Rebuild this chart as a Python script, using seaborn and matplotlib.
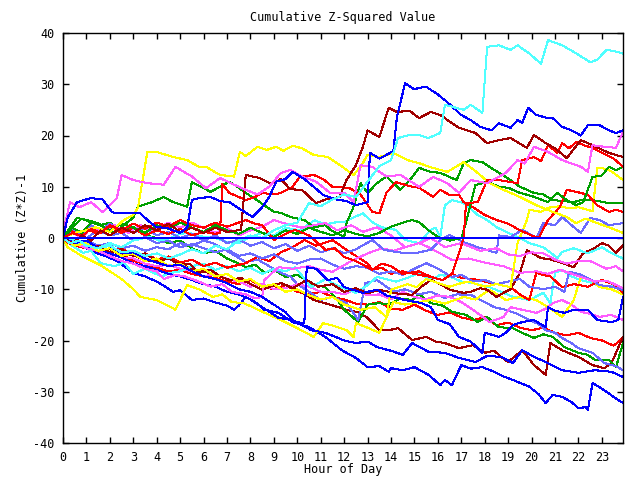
import matplotlib
matplotlib.use("Agg")
import matplotlib.pyplot as plt
import seaborn as sns
import pandas as pd

# ---- data: (hour, cumulative value) per series ----
cyan_a = [(0,0),(0.3,-1),(0.7,-0.5),(1,-1.5),(1.5,-2),(2,-1.5),(2.5,-2.8),(3,-2.5),(3.5,-3.5),(4,-3),(4.5,-4),(5,-3.2),(5.5,-2.2),(6,-3),(6.5,-1.5),(7,-2.2),(7.5,-0.5),(8,0.5),(8.5,0),(9,1.5),(9.5,2.5),(10,3),(10.5,6.8),(11,6.2),(11.5,7.5),(12,8.5),(12.5,8),(13,11),(13.5,14),(14,15.2),(14.3,19.5),(14.7,20),(15.2,20.1),(15.6,19.5),(16.1,20.5),(16.3,26),(16.7,25.5),(17.1,25),(17.4,26),(17.9,24.4),(18.1,37.3),(18.6,37.6),(19.1,36.7),(19.4,37.6),(19.9,36),(20.4,34),(20.7,38.6),(21.3,37.6),(21.8,36.3),(22.5,34.3),(22.8,34.8),(23.2,36.7),(23.5,36.5),(23.9,36)]
blue_a = [(0,0),(0.2,4),(0.6,7),(1.2,7.8),(1.7,7.5),(2.1,5),(2.6,4.8),(3.3,4.8),(3.7,3.1),(4,2.1),(4.4,2),(5,1),(5.3,2),(5.5,7.4),(5.8,7.8),(6.3,8),(6.7,7.2),(7.1,7),(7.6,5.5),(8.1,4.1),(8.5,6),(8.8,8),(9.1,11),(9.5,11.5),(9.8,12.9),(10.3,11.5),(10.7,10),(11.1,8.4),(11.7,7.5),(12.1,7.2),(12.5,6.4),(13,7),(13.1,16.6),(13.5,15.5),(13.8,16.2),(14.1,17),(14.25,23.6),(14.6,30.2),(15,29),(15.2,29.3),(15.5,29.5),(16,28),(16.4,26.5),(17,24),(17.4,23),(17.8,21.7),(18.3,21),(18.6,22.4),(19.1,21.5),(19.4,23),(19.6,22.5),(19.85,25.4),(20.2,24),(20.7,23.4),(20.9,23.4),(21.3,21.7),(21.7,21),(22.1,20),(22.4,22),(22.9,22),(23.3,21),(23.6,20.5),(23.9,21)]
darkred_a = [(0,0),(0.4,-1),(0.8,0.5),(1.2,-0.5),(1.6,1.5),(2,0.5),(2.5,2),(3,1),(3.5,2.5),(4,1.5),(4.5,2.8),(5,1.2),(5.5,2),(6,1),(6.5,2),(7,1.2),(7.6,1.6),(7.8,12.3),(8.4,11.7),(8.9,10.5),(9.3,11.5),(9.7,9.5),(10.2,9.4),(10.8,6.8),(11.2,7.5),(11.8,8),(12.1,11.3),(12.5,14.2),(12.8,17.8),(13,21),(13.5,19.7),(13.9,25.4),(14.25,24.6),(14.8,24.8),(15.2,23.4),(15.7,24.6),(16.1,24),(16.6,22.4),(16.9,21.5),(17.6,20.5),(18.1,18.5),(18.6,19.1),(19.1,19.5),(19.8,17.6),(20.1,20.1),(20.6,18.5),(21,17.5),(21.5,15.6),(22.1,19.1),(22.6,18.1),(23.3,16.6),(23.9,15.8)]
red_a = [(0,0),(0.4,1),(0.8,0.3),(1.2,1.8),(1.6,1),(2,2.5),(2.5,1.5),(3,2.8),(3.5,1.8),(4,3),(4.5,2.2),(5,3.5),(5.5,2.5),(6,2),(6.5,3),(7,2.2),(7.8,3.5),(8.2,2.8),(8.5,2.5),(9,-0.4),(9.5,0.8),(9.9,1.6),(10.5,0.5),(11.2,-2.3),(11.6,-2),(12,-3.7),(12.5,-4.5),(13.2,-6.2),(13.6,-5),(14,-5.5),(14.5,-7),(15.2,-6.5),(15.7,-7.6),(16.2,-8.2),(16.6,-7),(16.9,-3),(17.1,0),(17.2,6.8),(17.7,7),(18.1,11.3),(18.6,11.3),(19,11),(19.4,10.7),(19.6,15.2),(20.1,15.8),(20.4,15),(20.7,18.1),(21.1,16.6),(21.3,18.5),(21.6,17.5),(21.9,18.7),(22.3,18),(22.6,17.6),(23.2,16.2),(23.5,15.5),(23.9,13.9)]
red_b = [(0,0),(0.3,1.5),(0.7,0.5),(1,1.8),(1.5,0.8),(2,2.2),(2.5,1),(3,2),(3.5,0.5),(4,1.5),(4.5,0.8),(5,1.8),(5.5,0.5),(6,1.2),(6.5,0.8),(6.7,1),(6.8,10.5),(7.1,8.8),(7.5,8),(7.8,7.4),(8.2,8),(8.5,8.8),(9,8.5),(9.3,8.8),(9.8,10),(10.1,11.9),(10.7,12.3),(11.1,11.5),(11.5,10),(12.2,9.8),(12.7,8.5),(13.2,5.1),(13.5,4.8),(13.8,8.8),(14.2,10.9),(14.9,10),(15.2,9.8),(15.8,8),(16.1,9.4),(16.5,8.4),(16.9,8.4),(17.1,7),(17.5,6),(18,4.5),(18.5,3.5),(19,2.8),(19.5,1.5),(20,0.5),(20.3,0),(20.7,3.5),(21.2,6),(21.5,9.4),(21.7,9.2),(22.1,8.8),(22.4,8.4),(22.8,6.4),(23.3,5.1),(23.6,5.5),(23.9,5.1)]
magenta_a = [(0,0),(0.1,3),(0.3,7),(0.7,6),(1.2,7),(1.7,5),(2.3,7.8),(2.5,12.3),(3,11.3),(3.6,10.7),(4.3,10.4),(4.8,13.9),(5.5,12),(6.1,9.7),(6.7,11.7),(7.3,10.4),(7.8,9.4),(8.3,8.5),(8.8,10),(9.3,12.7),(9.7,13.3),(10.2,12),(10.8,11),(11.4,8.8),(12,8.8),(12.4,7),(12.7,14.2),(13.2,13.9),(13.8,12),(14.4,12.3),(15.2,10),(15.8,11.9),(16.4,10.7),(16.9,8.8),(17.4,11.3),(18.1,10.7),(18.9,12.7),(19.4,15.2),(19.7,14.5),(20.1,17.8),(20.7,16.8),(21.3,15.2),(22.1,13.9),(22.4,12.9),(22.6,18.1),(23.1,17.8),(23.6,17.6),(23.9,20.7)]
yellow_a = [(0,0),(0.5,1),(1,1.5),(1.4,2.1),(2,1.2),(2.6,3.5),(3,4.5),(3.2,5.9),(3.6,16.8),(4,16.8),(4.7,15.8),(5.3,15.2),(5.8,13.9),(6.1,13.9),(6.7,12.3),(7.3,12),(7.55,16.8),(7.8,16),(8.3,17.8),(8.7,17.2),(9.1,17.8),(9.4,17),(9.8,18),(10.2,17.5),(10.7,16.2),(11.3,15.8),(11.7,14.6),(12.1,13.3),(12.4,12.3),(12.7,13.9),(13,16.2),(13.5,15.8),(14.1,16.6),(14.7,15.2),(15.2,14.6),(15.7,13.8),(16.4,12.9),(17.1,14.8),(17.7,12.7),(18.2,10.7),(18.8,9.4),(19.5,8),(20.2,6.4),(20.9,5.1),(21.5,4.1),(21.9,2.9),(22.3,3.8),(22.8,2.9),(23.3,2.1),(23.9,1)]
yellow_b = [(0,0),(0.5,-1.5),(1,-1),(1.5,-2.5),(2,-2),(2.5,-3.5),(3,-3),(3.5,-4.5),(4,-4),(4.5,-5.5),(5,-5),(5.5,-6.5),(6,-6),(6.5,-7.5),(7,-7),(7.5,-8.5),(8,-8),(8.5,-9.5),(9,-9),(9.5,-10.5),(10,-10),(10.5,-11.2),(11,-12),(11.5,-11.5),(12,-13),(12.7,-14),(13.3,-13.5),(13.8,-15.4),(14,-10.1),(14.7,-9),(15.1,-9.6),(15.5,-8),(16,-8.8),(16.5,-9.5),(17,-8.8),(17.3,-8.5),(18,-9.5),(18.5,-9),(19.1,-9.6),(19.4,-1),(19.8,3.5),(19.9,5.5),(20.4,5.1),(20.7,5.9),(21.2,6.2),(21.6,5.8),(22,6),(22.4,5.5),(22.6,5.2),(22.8,13.7),(23.2,13.5),(23.5,12.7),(23.9,11.3)]
green_a = [(0,0),(0.4,2),(0.8,1),(1.2,3),(1.6,2.5),(2,1.5),(2.5,2.8),(3,2),(3.5,1),(4,2.5),(4.5,1.8),(5,3),(5.5,2),(6,1.2),(6.5,2.5),(7,1.5),(7.5,0.8),(8,2),(8.5,1),(9,0.2),(9.5,1.5),(10,0.8),(10.5,2),(11,1.2),(11.5,0.5),(12,1.5),(12.5,0.8),(13,0.3),(13.5,1),(14,2.2),(14.5,3),(14.9,3.5),(15.2,3.1),(15.6,1.5),(16,0.2),(16.5,-0.5),(17,0),(17.2,3),(17.6,10.3),(18.1,11),(18.6,10),(19,9.8),(19.5,8.8),(20,8.2),(20.7,7),(21.1,8.8),(21.5,7.4),(21.9,6.4),(22.2,7),(22.6,11.9),(23,12.2),(23.3,13.9),(23.6,13.2),(23.9,13.9)]
green_b = [(0,0),(0.3,2),(0.6,3.9),(1,3.5),(1.5,2.9),(2.1,1),(2.6,2.5),(3,4),(3.2,6.1),(3.8,7),(4.3,8),(4.7,7),(5.3,6.1),(5.5,10.9),(5.9,10),(6.3,9),(6.7,10),(7.1,11),(7.5,9.8),(7.8,8.8),(8.4,7),(9,5.1),(9.3,4.9),(9.7,4.1),(10.3,3.5),(10.7,2.1),(11.2,2.5),(11.4,1.6),(12,0.2),(12.1,2.9),(12.4,6.1),(12.7,10.7),(13,8.8),(13.4,10.7),(13.8,12),(14.4,9.4),(14.8,11.3),(15.2,13.7),(15.6,13),(16.1,12.7),(16.8,11.3),(17.1,14.6),(17.4,15.2),(17.9,14.8),(18.4,13.3),(18.9,11.9),(19.5,10),(20.1,8.8),(20.5,8.5),(20.9,7.4),(21.4,7.2),(21.8,7),(22.2,7.5),(22.6,7.4),(23.3,6.8),(23.9,6.8)]
green_c = [(0,0),(0.4,2),(0.8,3.8),(1.2,3),(1.6,2.5),(2,3),(2.5,1.5),(3,2.2),(3.5,0.5),(4,0),(4.5,-1),(5,-0.5),(5.5,-2),(6,-3),(6.5,-2.5),(7,-4),(7.5,-5),(7.8,-5.7),(8.2,-5.2),(8.6,-6.8),(9,-6.2),(9.5,-7.6),(10,-7.2),(10.3,-8),(10.6,-9),(11.2,-9.6),(11.7,-12),(12,-14),(12.6,-16.4),(13,-13),(13.5,-12.7),(13.9,-13),(14.4,-11.8),(14.9,-12.1),(15.2,-11),(15.7,-12.7),(16.2,-13.2),(16.6,-14.4),(17.2,-15),(17.7,-16.4),(18.1,-15.4),(18.6,-17.4),(19.2,-17.6),(19.6,-18.5),(20.1,-19.5),(20.5,-18.8),(20.9,-19.3),(21.4,-21.3),(22,-22.4),(22.4,-22.8),(22.7,-23.8),(23.3,-23.8),(23.6,-25.2),(23.9,-20.5)]
slate_a = [(0,0),(0.4,1.5),(0.8,0.5),(1.2,2.5),(1.6,1.5),(2,2.8),(2.5,1.8),(3,1),(3.5,2),(4,0.5),(4.5,1.2),(5,0),(5.5,0.8),(6,-0.5),(6.5,0.5),(7,-1),(7.5,-0.3),(8,-1.5),(8.5,-0.8),(9,-2),(9.5,-1.2),(10,-2.5),(10.5,-1.5),(11,-2.8),(11.5,-2),(12,-3),(12.5,-2.2),(13.2,-0.4),(13.7,-2.3),(14.3,-2.8),(15,-3),(15.7,-2.3),(16.1,-0.4),(16.5,0.6),(17.1,-0.8),(17.7,-1.8),(18.2,-2.5),(18.5,-2.9),(18.6,0.5),(19.1,0.2),(19.6,1.6),(20.2,0),(20.5,2.9),(21,2.5),(21.3,4.1),(21.7,2.5),(22.1,1),(22.5,3.9),(22.9,3.5),(23.3,2.5),(23.9,2.9)]
slate_b = [(0,0),(0.5,1),(1,0),(1.5,1.5),(2,0.5),(2.5,1),(3,-0.5),(3.5,0.2),(4,-1),(4.5,-0.5),(5,-1.8),(5.5,-1.2),(6,-2),(6.5,-2.8),(7,-2.2),(7.5,-3.5),(8,-3),(8.5,-4),(9,-3.2),(9.5,-4.5),(10,-5),(10.5,-4.2),(11,-4),(11.5,-5.2),(12,-6),(12.5,-5.5),(13,-5.8),(13.5,-7),(14,-6.5),(14.5,-7.2),(15,-6),(15.5,-4.9),(16,-6),(16.6,-7.6),(17,-7.2),(17.5,-8.5),(18,-8.2),(18.5,-9),(19,-8.5),(19.5,-8),(19.9,-9.5),(20.5,-10),(21,-9.5),(21.4,-10.5),(21.6,-6.6),(22,-7),(22.4,-7.8),(22.9,-9.2),(23.4,-9.5),(23.9,-10.1)]
slate_low = [(0,0),(0.5,-1),(1,-0.5),(1.5,-1.5),(2,-1),(2.5,-2),(3,-1.5),(3.5,-2.5),(4,-1.8),(4.5,-2.2),(5,-1),(5.5,-1.5),(6,-0.5),(6.4,-1),(7,-2.5),(7.8,-4.7),(8.3,-4.2),(8.8,-5.5),(9.3,-6.8),(9.7,-7.5),(10,-9),(10.5,-10.5),(11,-12.1),(11.5,-11.5),(12.1,-12.7),(12.6,-16),(12.9,-8.8),(13.4,-8.2),(13.8,-9.5),(14.1,-10.5),(14.6,-10),(15.2,-11),(15.7,-10.5),(16.3,-11.7),(16.8,-11),(17.4,-11.1),(18,-12.5),(18.4,-13.5),(18.9,-14),(19.4,-14.8),(19.9,-16),(20.3,-16.8),(20.6,-18),(21,-18.5),(21.3,-19.5),(21.7,-20.5),(22,-21.5),(22.6,-22.4),(23.1,-24.4),(23.6,-25),(23.9,-25.8)]
cyan_b = [(0,0),(0.5,-0.5),(1,-1.5),(1.5,-2),(2,-1),(2.5,-1.8),(3,-0.5),(3.7,0.2),(4.1,-0.5),(4.6,0),(5,0.8),(5.4,1),(6,0.2),(6.5,0),(7,-0.8),(7.5,-1),(8,0.2),(8.5,1),(9,0.5),(9.5,2),(10.1,1.5),(10.75,3.5),(11.2,2.5),(11.5,3),(12,3.1),(12.4,4),(12.8,4.8),(13.2,3.1),(13.6,2.1),(14.2,1.6),(14.6,-0.4),(15.2,-1),(15.7,1.6),(15.9,2),(16.1,0.2),(16.3,6.4),(16.6,7.4),(17.1,6.8),(17.7,4.5),(18.1,3.5),(18.5,2.1),(19,1),(19.4,0.2),(19.9,-1),(20.5,-1.8),(21.1,-3.9),(21.3,-2.7),(21.8,-2),(22.4,-3),(23,-1.8),(23.3,-2.7),(23.9,-4)]
cyan_c = [(0,0),(0.4,-1.5),(0.85,-2.9),(1.2,-2.5),(1.6,-4.9),(2.2,-5.5),(2.6,-4.8),(3,-7),(3.5,-6),(4.2,-7.5),(4.6,-6.8),(5,-6.5),(5.5,-5.5),(6,-5),(6.5,-6.2),(7,-5.5),(7.5,-6.5),(8,-5.8),(8.5,-7),(9,-6),(9.5,-6.5),(9.9,-5.7),(10.6,-9.6),(11.2,-8),(11.8,-9.5),(12.5,-10.7),(13,-9.2),(13.4,-7.6),(14.2,-8.5),(14.7,-7.8),(15.2,-6.8),(15.7,-8.2),(16.1,-7.2),(16.5,-7.5),(17,-8.5),(17.5,-8.8),(18.2,-9.6),(18.7,-10.5),(19.2,-11.5),(19.9,-12.1),(20.5,-10.7),(20.8,-12.7),(21,-6.8),(21.3,-6.2),(21.7,-7.5),(22.1,-8.2),(22.6,-8.8),(23,-9.6),(23.5,-9.2),(23.9,-10.1)]
darkred_b = [(0,0),(0.4,-1),(0.8,-0.5),(1.2,-2),(1.6,-1.5),(2,-2.8),(2.5,-2.2),(3,-3.5),(3.5,-3),(4,-4.5),(4.5,-4),(5,-5.2),(5.4,-5),(5.8,-6.8),(6.3,-6.2),(6.7,-7.5),(7.1,-8.2),(7.6,-7.8),(8,-9),(8.5,-10.1),(9,-9.2),(9.3,-8.8),(9.8,-9.8),(10.4,-8.2),(10.9,-9.5),(11.5,-9),(12,-10.5),(12.5,-9.8),(13,-10.8),(13.5,-10.1),(14.2,-10.8),(14.9,-11.1),(15.3,-9.5),(15.7,-8.2),(16.1,-9),(16.5,-10.1),(17.1,-10.7),(17.4,-10.5),(17.8,-9.8),(18.1,-10.1),(18.5,-11.5),(18.8,-10.7),(19.1,-10),(19.5,-6.8),(19.8,-2.3),(19.9,-2.7),(20.4,-3.9),(20.8,-4.2),(21.2,-4.7),(21.8,-5.7),(22.2,-2.9),(22.6,-2.2),(23,-1),(23.3,-1.5),(23.6,-2.9),(23.9,-1.4)]
darkred_c = [(0,0),(0.5,-1.5),(1,-1),(1.5,-2.5),(2,-2.2),(2.5,-3.5),(3,-3.2),(3.5,-4.5),(4,-4.2),(4.5,-5.5),(5,-5),(5.5,-6),(6,-6.5),(6.5,-7.2),(7.1,-8.2),(7.6,-8),(8.1,-9.2),(8.5,-10.1),(9.3,-8.8),(10,-10),(10.7,-12.1),(11.4,-13),(12.1,-14),(12.6,-14.5),(13,-15.6),(13.5,-18),(13.9,-18),(14.3,-17.6),(14.9,-19.9),(15.5,-19.3),(15.9,-20.2),(16.3,-20.5),(16.9,-21.5),(17.5,-20.9),(18,-22.4),(18.4,-22),(18.7,-23.2),(19,-24.2),(19.6,-21.9),(20.1,-24.8),(20.6,-26.7),(20.8,-20.5),(21.3,-21.9),(22,-23.2),(22.6,-24.8),(23.1,-25.4),(23.4,-24.5),(23.6,-22.4),(23.9,-19.3)]
red_c = [(0,0),(0.3,-1.2),(0.7,-0.8),(1.1,-2),(1.5,-1.6),(2,-2.8),(2.5,-2),(3,-3.5),(3.5,-3),(4,-4.2),(4.5,-3.6),(5,-4.8),(5.5,-4.2),(6,-5.5),(6.5,-4.8),(7,-5.8),(7.8,-4.9),(8.3,-3.7),(8.8,-4.5),(9.3,-2.8),(9.8,-1.8),(10.3,-0.4),(10.8,-1.5),(11.5,-0.4),(12,-2),(12.5,-3.5),(13,-5),(13.2,-6.2),(13.6,-5.8),(14,-7),(14.5,-6.5),(15.2,-7.2),(15.7,-7.6),(16.2,-8.2),(16.6,-7),(17,-7.8),(17.5,-8),(18.3,-8.8),(19.1,-9.6),(19.5,-11),(19.9,-12.1),(20.2,-6.8),(20.5,-7.2),(20.8,-7.5),(21.3,-9.6),(21.8,-9),(22.4,-9.5),(23,-8.2),(23.5,-9),(23.9,-10.7)]
red_d = [(0,0),(0.5,-1.5),(1,-2),(1.5,-2.8),(2,-3.5),(2.5,-3.2),(3,-4.5),(3.5,-5),(4,-5.8),(4.5,-6.5),(5,-6.2),(5.5,-7),(6,-7.5),(6.5,-7.8),(7,-8.5),(7.5,-9),(8,-8.2),(8.5,-9.5),(9,-10),(9.5,-9.2),(10,-10.5),(10.5,-11),(11,-10.5),(11.5,-11.5),(12,-12),(12.5,-12.8),(13,-13),(13.5,-12.5),(14,-13.8),(14.5,-14),(15,-13),(15.5,-14.2),(16,-15),(16.5,-14.5),(17,-15.5),(17.5,-16),(18,-15.5),(18.5,-17),(19,-16.5),(19.5,-17.5),(20,-18),(20.5,-17.5),(21,-18.5),(21.5,-19),(22,-18.5),(22.5,-19.5),(23,-20),(23.5,-21),(23.9,-19.5)]
magenta_b = [(0,0),(0.5,-1),(1,-2),(1.5,-2.5),(2,-3.5),(2.5,-4.5),(3,-5),(3.5,-6),(4,-6.5),(4.3,-8),(4.8,-7.2),(5.2,-7.5),(5.8,-8.5),(6.3,-9.5),(6.8,-9),(7.2,-10.5),(7.8,-11),(8.2,-11.8),(8.5,-11.5),(8.6,-8.2),(9.2,-5.7),(9.8,-6),(10.5,-5.5),(11,-6.2),(11.5,-6.6),(12.3,-4.5),(13,-3),(13.6,-2),(14.1,-2.5),(14.6,-1.8),(15.2,-1),(15.6,-1.8),(16.1,-3),(16.6,-4.3),(17.3,-4),(18.1,-4.9),(18.8,-5.5),(19.5,-6.8),(20.2,-6.5),(20.7,-7),(21.2,-6.2),(21.6,-6.8),(22.1,-7.6),(22.7,-8.5),(23.2,-8.3),(23.9,-9.8)]
magenta_c = [(0,0),(0.4,1),(0.8,0),(1.2,2),(1.7,1.2),(2.2,2.5),(2.8,1),(3.3,2.5),(3.8,1.5),(4.5,3),(5,2),(5.5,3),(6,2),(6.5,1),(7,2),(7.5,0.5),(8,1.5),(8.5,2.2),(9,3.5),(9.5,2.8),(10.2,2),(10.7,2.5),(11.2,2.9),(11.7,1.5),(12.3,2.5),(12.8,1.2),(13.4,2.1),(14,0.5),(14.6,-1.8),(15.2,-1),(15.7,0),(16.3,-1.8),(17,-1),(17.8,-2.5),(18.5,-2),(19,-3.2),(19.5,-3.5),(20,-2.8),(20.5,-3),(21,-4.2),(21.5,-5),(22,-4.5),(22.5,-4.5),(23.2,-6),(23.6,-5.5),(23.9,-6.5)]
magenta_low = [(0,0),(0.5,-1),(1,-1.5),(1.5,-2.5),(2,-3),(2.5,-3.8),(3,-4),(3.5,-5),(4,-5.5),(4.5,-5.2),(5,-6),(5.5,-6.5),(6,-7.5),(6.5,-7),(7,-8),(7.5,-8.5),(8,-9.5),(8.5,-9),(9,-10),(9.5,-9.8),(10,-9),(10.5,-9.5),(11,-10.5),(11.5,-10.5),(12,-11),(12.5,-10),(13,-11.2),(13.5,-11),(14,-12),(14.5,-10.5),(15,-11.5),(15.5,-12),(16,-11.2),(16.5,-11.5),(17,-12.5),(17.4,-13.7),(17.8,-15),(18.2,-16.4),(18.8,-15.4),(19.1,-13.5),(19.6,-14),(20.2,-14.6),(20.6,-13.8),(20.9,-12.7),(21.3,-12.1),(21.7,-13),(22.1,-14.4),(22.5,-14.8),(22.9,-15.4),(23.4,-15),(23.9,-16)]
yellow_low = [(0,0),(0.2,-1.8),(0.8,-3.5),(1.6,-5.3),(2,-6.5),(2.5,-8),(3,-10),(3.3,-11.5),(4,-12.1),(4.4,-13),(4.8,-14),(5.3,-9.2),(5.8,-10),(6.4,-11.5),(6.8,-11),(7.2,-12.5),(7.7,-12.7),(8.1,-13.5),(8.8,-15),(9.3,-16),(10,-17.6),(10.7,-19.3),(11.1,-16.6),(11.6,-17.2),(12.1,-18),(12.4,-19.3),(12.5,-16.6),(13,-17.5),(13.5,-18.5),(14.1,-12.5),(14.6,-13),(15.2,-12.5),(15.7,-12.1),(16.3,-12.8),(17.1,-11.5),(17.6,-12),(18.2,-10.1),(18.9,-12.1),(19.5,-11.5),(20.2,-12.1),(20.7,-13.5),(21.3,-15.4),(21.8,-12.1),(22.1,-7.6),(22.5,-8),(22.9,-9.6),(23.4,-10),(23.9,-11)]
blue_mid = [(0,0),(0.5,-1),(1,-0.5),(1.5,-2),(2,-1.5),(2.5,-3),(3,-2.8),(3.5,-4),(4,-4.8),(4.5,-5.5),(5,-5.2),(5.5,-6.5),(6,-7.5),(6.5,-8),(7,-8.8),(7.5,-10),(8,-10.5),(8.5,-11.5),(9,-13),(9.5,-14.5),(9.9,-16.4),(10.3,-16.6),(10.4,-5.7),(10.8,-6),(11.3,-8.2),(11.7,-7.8),(12,-9.6),(12.8,-10.7),(13.4,-10.1),(13.8,-11.2),(14.6,-12.1),(15.3,-12.7),(15.7,-13.5),(16,-16),(16.5,-16.8),(16.9,-19.3),(17.4,-20.2),(17.9,-22.4),(18,-18.5),(18.4,-19),(18.6,-19.3),(18.9,-18.5),(19.2,-17),(19.6,-16.4),(20.1,-16),(20.6,-17.4),(20.7,-13.5),(21,-14.2),(21.4,-14.6),(21.8,-14),(22.4,-14),(22.8,-16),(23.4,-16.4),(23.7,-16),(23.9,-11.5)]
blue_low2 = [(0,0),(0.5,-0.8),(1,-1.5),(1.5,-2.5),(2,-3),(2.5,-3.8),(3,-5),(3.5,-5.5),(4,-6.2),(4.5,-7),(5,-7.5),(5.5,-8.2),(6,-9),(6.5,-9.5),(7,-10.5),(7.5,-11),(8,-12),(8.5,-13.5),(9.2,-15.6),(9.8,-16),(10.6,-18),(11.2,-18.5),(12,-20),(12.5,-20.5),(13,-20.2),(13.4,-21.3),(14,-22),(14.5,-22.8),(14.9,-20.5),(15.6,-22.2),(16.3,-22.4),(16.9,-23.4),(17.6,-24.2),(18.1,-23),(18.7,-23.2),(19.2,-24.4),(19.6,-21.9),(20.1,-23.2),(20.6,-24.2),(21.3,-25.8),(22,-26.3),(22.7,-25.8),(23.4,-26.1),(23.9,-27.1)]
blue_low1 = [(0,0),(0.3,-1),(0.8,-1.5),(1.3,-2.8),(1.8,-3.5),(2.3,-4.5),(3,-6.8),(3.5,-7.5),(4,-8.5),(4.4,-9.6),(4.7,-10.5),(5,-10.2),(5.5,-12.1),(6,-11.8),(6.6,-12.7),(7,-13.2),(7.3,-14),(7.5,-13.2),(7.8,-11.5),(8.2,-12.5),(8.6,-14),(9.2,-14.6),(9.8,-16.4),(10.5,-17.4),(11.2,-19.3),(11.9,-21.9),(12.5,-23.4),(13,-25.2),(13.5,-25),(13.9,-26.1),(14,-25.4),(14.5,-25.8),(15,-25.2),(15.6,-26.7),(16.1,-28.7),(16.3,-27.7),(16.6,-28.7),(17,-24.8),(17.4,-25.5),(17.9,-25.2),(18.4,-26.1),(18.8,-27),(19.2,-27.7),(19.9,-29),(20.3,-30.5),(20.6,-32.2),(20.9,-30.6),(21.3,-31),(21.7,-32),(22,-33.2),(22.3,-33),(22.4,-33.6),(22.6,-28.3),(23.1,-29.7),(23.5,-31),(23.9,-32.2)]
zero_line = [(0,0),(23.9,0)]

x_ticks = list(range(24))
y_ticks = list(range(-40, 41, 10))

RED, DRED, GREEN, BLUE = "#ff0000", "#a00000", "#00a000", "#0000ff"
SLATE, MAG, CYAN, YEL = "#6a6aff", "#ff5cff", "#50ffff", "#ffff00"

series = [
    ("red_d", red_d, RED), ("darkred_c", darkred_c, DRED), ("green_c", green_c, GREEN),
    ("blue_low1", blue_low1, BLUE), ("slate_low", slate_low, SLATE), ("magenta_low", magenta_low, MAG),
    ("cyan_c", cyan_c, CYAN), ("yellow_low", yellow_low, YEL), ("red_c", red_c, RED),
    ("darkred_b", darkred_b, DRED), ("blue_low2", blue_low2, BLUE), ("slate_b", slate_b, SLATE),
    ("magenta_b", magenta_b, MAG), ("cyan_b", cyan_b, CYAN), ("yellow_b", yellow_b, YEL),
    ("green_b", green_b, GREEN), ("blue_mid", blue_mid, BLUE), ("slate_a", slate_a, SLATE),
    ("magenta_c", magenta_c, MAG), ("red_b", red_b, RED), ("green_a", green_a, GREEN),
    ("yellow_a", yellow_a, YEL), ("red_a", red_a, RED), ("darkred_a", darkred_a, DRED),
    ("magenta_a", magenta_a, MAG), ("blue_a", blue_a, BLUE), ("cyan_a", cyan_a, CYAN),
]


def to_frame(items):
    rows = []
    for name, pts, _ in items:
        for i, (h, v) in enumerate(pts):
            rows.append({"series": name, "order": i, "hour": h, "value": v})
    return pd.DataFrame(rows)


df = to_frame(series)
df_zero = to_frame([("zero", zero_line, BLUE)])
palette = {name: col for name, _, col in series}
order = [name for name, _, _ in series]

plt.rcParams["font.family"] = ["DejaVu Sans Mono"]
fig = plt.figure(figsize=(6.4, 4.8), dpi=100)
ax = fig.add_axes([63/640, 37/480, 560/640, 410/480])

sns.lineplot(data=df, x="hour", y="value", hue="series", hue_order=order,
             palette=palette, estimator=None, sort=False, legend=False,
             linewidth=0.75, antialiased=False, ax=ax)
sns.lineplot(data=df_zero, x="hour", y="value", color=BLUE, estimator=None,
             sort=False, legend=False, linewidth=1.1, antialiased=False, ax=ax)

ax.set_xlim(0, 23.9)
ax.set_ylim(-40, 40)
ax.set_xticks(x_ticks)
ax.set_xticklabels([str(t) for t in x_ticks])
ax.set_yticks(y_ticks)
ax.set_yticklabels([str(t) for t in y_ticks])
ax.tick_params(direction="in", length=4.5, width=1, top=True, right=True,
               labelsize=8.5, pad=6, colors="black")
for s in ax.spines.values():
    s.set_linewidth(1)
    s.set_color("black")
ax.set_xlabel("")
ax.set_ylabel("")
ax.grid(False)
ax.set_facecolor("white")

fig.text(343/640, 1 - 17/480, "Cumulative Z-Squared Value", ha="center", va="center", fontsize=8.5)
fig.text(343/640, 1 - 470/480, "Hour of Day", ha="center", va="center", fontsize=8.5)
fig.text(23/640, 1 - 238/480, "Cumulative (Z*Z)-1", ha="center", va="center", rotation=90, fontsize=8.5)

fig.savefig("out.png", dpi=100, facecolor="white")
